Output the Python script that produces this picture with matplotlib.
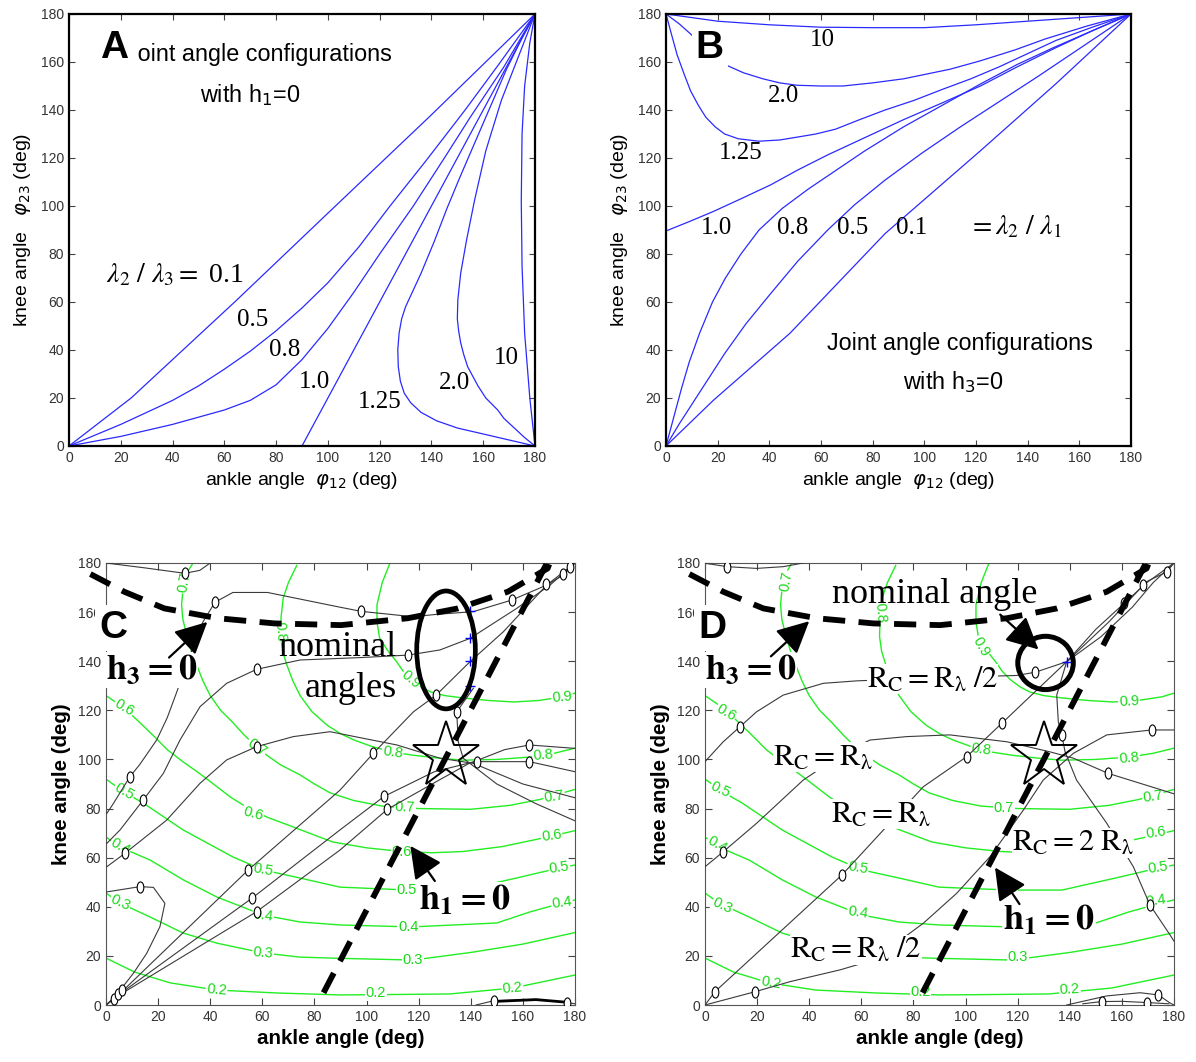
import matplotlib
matplotlib.use('Agg')
import matplotlib.pyplot as plt
from matplotlib.patches import Ellipse
from matplotlib.markers import MarkerStyle
from matplotlib.transforms import Affine2D

plt.rcParams['font.family'] = ['Liberation Sans', 'DejaVu Sans']
plt.rcParams['mathtext.fontset'] = 'stix'
SERIF = ['Liberation Serif', 'DejaVu Serif']

# ---------------- Panel A : h1 = 0, lambda2/lambda3 ----------------
A_labels = ['0.1', '0.5', '0.8', '1.0', '1.25', '2.0', '10']
A01_x = [0, 24, 64, 100, 140, 180]
A01_y = [0, 20, 60, 97, 138, 180]
A05_x = [0, 10, 20, 30, 40, 50, 60, 70, 80, 90, 100, 112, 124, 138, 153, 166, 180]
A05_y = [0, 4.5, 9, 14, 19, 25, 32, 39.5, 48, 57.5, 68, 83, 100, 119, 140, 159, 180]
A08_x = [0, 10, 20, 30, 40, 50, 60, 70, 80, 90, 100, 110, 120, 133, 145, 155, 168, 180]
A08_y = [0, 2, 4, 6.5, 9, 12, 15, 19, 25.5, 36, 49, 64, 80, 100, 120, 137, 158, 180]
A10_x = [90, 135, 180]
A10_y = [0, 90, 180]
A125_x = [180, 170, 160, 150, 142, 136, 132, 129.5, 128, 127.2, 127, 127.5, 128.5, 130, 133, 136,
          141, 146, 151, 157, 163, 169, 175, 180]
A125_y = [0, 2.5, 5, 7.5, 10.5, 14, 18, 22, 27, 33, 40, 47, 53, 58, 65, 72,
          85, 99, 112, 127, 142, 157, 170, 180]
A20_x = [180, 176, 172, 168, 165.6, 161, 158, 156, 154, 152.5, 151.3, 150.5, 150, 150.2, 151.3,
         153.6, 156.7, 161, 167, 174.6, 180]
A20_y = [0, 3.5, 7.5, 11.5, 15, 20, 25, 29, 33, 38, 43, 48, 53, 61, 72,
         86, 102.6, 123, 144, 165, 180]
A100_x = [180, 178, 176, 175, 174.7, 175, 176, 178, 180]
A100_y = [0, 20, 47, 75, 102, 130, 150, 168, 180]
A_label_x = [71.1, 83.4, 95, 120, 149, 169]
A_label_y = [52.5, 40, 26.7, 18.3, 26.2, 36.7]

# ---------------- Panel B : h3 = 0, lambda2/lambda1 ----------------
B_labels = ['10', '2.0', '1.25', '1.0', '0.8', '0.5', '0.1']
B10_x = [0, 20, 40, 60, 80, 100, 120, 140, 160, 180]
B10_y = [180, 177, 175.5, 174.5, 174.3, 174.3, 175.5, 177, 178.5, 180]
B20_x = [0, 5, 9.5, 16, 22.7, 30, 37.5, 44, 50.8, 60, 68.5, 80, 92, 110, 121.7, 135, 146.8, 163, 180]
B20_y = [180, 176, 171.7, 165, 159, 155.5, 153, 151.3, 150.3, 150, 150, 151.3, 153, 157, 160.5,
         165, 169.6, 175, 180]
B125_x = [0, 2, 4.3, 7, 9.5, 12.5, 15.4, 19, 22.7, 28, 36, 44, 50.8, 58, 65.6, 75, 84.8, 96, 107,
          118, 129, 140, 151, 165, 180]
B125_y = [180, 172, 163, 155, 148, 142, 137, 133, 130, 128, 127, 127.5, 128.7, 130, 132, 136, 140,
          144, 148.6, 153, 158, 163.5, 169, 174.5, 180]
B1_x = [0, 9, 18.3, 29, 40.5, 51, 62.6, 77, 92, 107, 121.7, 136, 151, 165, 180]
B1_y = [89.6, 93.5, 97.7, 103, 108.8, 115, 121.3, 128.5, 136, 143, 150, 158, 166, 173, 180]
B08_x = [0, 3, 6, 9, 13, 18, 23, 29, 36, 45, 55, 66, 77, 92, 107, 122, 136, 150, 165, 180]
B08_y = [0, 12, 24, 35, 47, 60, 70, 80, 90, 99, 107, 115, 123, 133, 142, 151, 159, 166, 173, 180]
B05_x = [0, 5, 11, 17, 22.7, 31, 40.5, 51, 62.6, 73, 84.8, 99, 114, 129, 144, 162, 180]
B05_y = [0, 9, 19, 29, 38.5, 51, 63.5, 77, 90, 100.5, 110.8, 122, 133, 143.5, 154, 167, 180]
B01_x = [0, 18.3, 48, 84.8, 121.7, 151, 180]
B01_y = [0, 19, 47, 88.5, 123, 151, 180]
B_label_x = [60.4, 45.3, 29, 19.4, 49, 72.4, 95.2]
B_label_y = [169, 145.8, 122, 91, 91, 91, 91]

# ---------------- Panels C/D : green contour levels ----------------
G02_x = [0, 11, 24.7, 42.4, 65.5, 89.8, 103.5, 132, 156, 180]
G02_y = [19.1, 13.4, 9, 6.1, 4.9, 4.1, 4.2, 4.5, 6.9, 12.2]
G03_x = [0, 5.4, 17, 29.6, 42.5, 60.3, 74.5, 89.8, 117.8, 140, 160, 180]
G03_y = [45.6, 41.5, 35.8, 29.3, 25.2, 21.2, 19.5, 19, 18.3, 21.4, 24.8, 29.5]
G04_x = [0, 5.4, 17, 29.6, 42.5, 55.3, 60.3, 74.5, 89.8, 117.3, 150, 162.7, 175, 180]
G04_y = [68.4, 64.3, 59, 51, 44, 38.7, 36.6, 33.8, 32.6, 31.8, 33.4, 37.9, 41.5, 42.8]
G05_x = [0, 6.9, 14.2, 29.6, 48.7, 60.3, 74.5, 89.8, 116.7, 137, 157.5, 174, 180]
G05_y = [92, 86.7, 82.3, 71.3, 60.3, 55, 51.7, 48, 46.8, 46.8, 51.7, 55.8, 57]
G06_x = [0, 6.9, 12, 17.9, 23.5, 29.6, 35, 40, 48, 56.4, 63, 69.4, 78, 87, 100, 113.5, 125, 137,
         152, 167.7, 180]
G06_y = [126, 121, 116, 110, 104, 99, 95, 91, 84.5, 79, 76, 73.5, 70, 66.4, 64, 62.5, 62, 62.5,
         64.5, 68, 71]
G07_x = [33.4, 30.5, 29.6, 29, 29.5, 31, 32.7, 34.8, 37.2, 40, 44, 48.7, 53, 57.8, 62, 67, 74.5,
         80, 86, 95, 106, 120, 140, 155, 166.5, 180]
G07_y = [180, 175, 170, 163, 157, 150.7, 144.5, 138.5, 132, 126, 120, 115, 110, 105, 101.5, 97.8,
         93.7, 90, 86.4, 83.3, 81, 80, 79.7, 81.3, 83.7, 87.8]
G08_x = [73.2, 70, 68, 67.2, 67, 67.8, 69.4, 71.7, 74.5, 79, 84.8, 90, 95, 102, 110, 118, 128, 137,
         150, 163, 172, 180]
G08_y = [179, 172, 165.7, 158, 150, 144, 138.5, 132, 126, 119.5, 114, 110.5, 108, 105.3, 103,
         101.7, 100.5, 99.7, 100, 101, 102.5, 104.6]
G09_x = [109, 106, 104, 104, 105, 108, 111.6, 114, 117.3, 121, 124.6, 130, 137.4, 147, 156.6, 166,
         175.4, 180]
G09_y = [180, 172, 163, 156, 149.5, 144.5, 139.7, 136, 132.4, 129.5, 127.5, 126, 125, 124, 123.4,
         124, 125.5, 127]

C_glab_x = [30, 67, 117, 175, 110, 167.7, 57.8, 114.8, 172, 6.9, 56.4, 113.5, 171,
            6.9, 60.3, 115.5, 174, 5.4, 60.3, 116, 175, 5.4, 60.3, 117.8, 42.4, 103.5, 156]
C_glab_y = [172, 152, 132.4, 125.5, 103, 101.7, 105, 80.4, 85, 121, 78, 62.3, 69,
            86.7, 55, 46.8, 55.8, 64.3, 36.6, 31.8, 41.5, 41.5, 21.2, 18.3, 6.1, 4.9, 6.9]
C_glab_t = ['0.7', '0.8', '0.9', '0.9', '0.8', '0.8', '0.7', '0.7', '0.7', '0.6', '0.6', '0.6', '0.6',
            '0.5', '0.5', '0.5', '0.5', '0.4', '0.4', '0.4', '0.4', '0.3', '0.3', '0.3', '0.2', '0.2', '0.2']
C_glab_r = [80, -85, -40, 5, -8, 5, -35, -2, 8, -30, -15, 0, 8,
            -30, -10, 0, 8, -30, -8, 0, 8, -25, -5, 0, -5, 0, 5]

D_glab_x = [31.3, 67.3, 106, 162.7, 106, 162.7, 114.7, 172, 8, 173, 6, 58.7, 116, 174,
            4.7, 58.7, 173, 6.7, 120, 25.3, 82.7, 140]
D_glab_y = [172.5, 159.7, 146, 123.7, 104, 100.7, 80.4, 85, 119, 70, 87.8, 56, 47.8, 56,
            65.5, 37.7, 42.4, 40.4, 19.4, 9.2, 5.2, 6.5]
D_glab_t = ['0.7', '0.8', '0.9', '0.9', '0.8', '0.8', '0.7', '0.7', '0.6', '0.6', '0.5', '0.5', '0.5', '0.5',
            '0.4', '0.4', '0.4', '0.3', '0.3', '0.2', '0.2', '0.2']
D_glab_r = [80, -85, -60, 3, -8, 5, 0, 8, -30, 8, -25, -10, 0, 8,
            -30, -8, 8, -25, 0, -10, 0, 3]

# ---------------- Panel C : black zero lines ----------------
C_top_x = [0, 15, 30.3, 36, 40]
C_top_y = [180, 178, 175.8, 177, 180]
C_beta_x = [0.3, 2.8, 9.2, 13, 19.5, 23.5, 27, 32.2, 37.2, 41.8, 48.7, 62, 89.8, 98, 118, 126, 141,
            155.7, 169.1, 175.5, 180]
C_beta_y = [78, 82, 93, 98, 108, 117, 127, 142.5, 156, 164, 168, 168, 162, 160.3, 158.1, 159, 160.2,
            164.9, 171, 175.1, 180]
C_alpha_x = [0.3, 5.4, 14.3, 22, 28.4, 36.1, 46.3, 57.8, 74.5, 98, 116, 128.2, 139.7, 157.6, 170.4, 180]
C_alpha_y = [65.8, 71.3, 83.5, 94.3, 107.9, 121.5, 131, 136.7, 140.5, 141.5, 142.5, 144.6, 149.3,
             161.5, 171, 180]
C_gamma_x = [0.3, 7.3, 10.5, 23.3, 36.1, 46.3, 57.8, 71.9, 86, 111.6, 128.2, 141, 160, 180]
C_gamma_y = [56.3, 61.8, 64.5, 75.3, 90.3, 99.8, 105.2, 109.3, 111.3, 105.9, 100.5, 98.4, 90, 84.4]
C_delta_x = [0, 13, 18.2, 22.6, 20.7, 15.6, 10.5, 6, 2, 0]
C_delta_y = [46, 48.2, 47.9, 41.4, 31.9, 21, 12.9, 6.8, 2, 0]
C_diaga_x = [0, 4.1, 54.6, 89.8, 102.6, 118, 126.7, 139.7, 152.5, 169.1, 180]
C_diaga_y = [0, 3.4, 55, 87.5, 102.5, 119.4, 126.2, 139.8, 152, 171, 180]
C_diagb_x = [0, 4, 55.9, 89.8, 106.8, 126, 141, 153, 162.5, 180]
C_diagb_y = [0, 3.5, 43.4, 71.3, 85, 95, 99, 104, 105.9, 104.5]
C_diagc_x = [0, 5, 57.8, 89.8, 108, 126, 139.7, 142.3, 162.5, 180]
C_diagc_y = [0, 4, 38, 63.1, 79.7, 90.5, 98.6, 99.1, 99.1, 95]
C_vert_x = [141, 134.6, 135.2, 137.1, 150, 165, 180]
C_vert_y = [129, 119.4, 107.2, 100.5, 90, 82, 75]
C_br_x = [142, 149, 160, 169, 177, 180]
C_br_y = [0, 1.8, 2, 1.8, 1, 0.5]
C_mark_x = [30.3, 41.8, 98, 155.8, 9.2, 14.3, 57.8, 116, 7.3, 57.8, 13, 54.6, 55.9, 57.8,
            102.6, 126.7, 106.8, 108, 134.6, 162.5, 162.5, 142.3, 149, 177, 3, 4.5, 6, 169, 175.5, 178]
C_mark_y = [175.8, 164, 160.3, 165, 93, 83.5, 136.7, 142.5, 61.8, 105.2, 48.2, 55, 43.4, 38,
            102.5, 126.2, 85, 79.7, 119.4, 105.9, 99.1, 99.1, 1.8, 1, 2.5, 4.5, 6, 171.5, 175.5, 178.5]
C_plus_x = [139.7, 139.7, 139.7, 139.7]
C_plus_y = [160.3, 149.5, 140, 129.8]

# ---------------- Panel D : black zero lines ----------------
D_top_x = [0, 8.6, 19.8, 30, 37.7]
D_top_y = [179.9, 178.5, 177.8, 178.5, 180]
D_upper_x = [0, 7, 13.4, 19.8, 30, 45.4, 58.2, 90.2, 119.6, 126.7, 138.8]
D_upper_y = [99.1, 107.2, 113.3, 119.4, 126.2, 131, 132, 133.3, 134.2, 135.5, 139.8]
D_mid_x = [0, 7, 19.8, 37.7, 53.3, 63.3, 77.4, 94, 115.8, 132.4, 141.4, 154.8, 180]
D_mid_y = [56.3, 62.4, 74, 91.6, 102.7, 107.9, 109.3, 110, 107.2, 103.1, 100.5, 94.3, 86]
D_diag_x = [0, 3.8, 52.5, 83.8, 100.4, 113.9, 138.8, 155, 169.5, 177.2, 180]
D_diag_y = [0, 5.4, 52.9, 88.9, 101.1, 114.7, 139.8, 156, 172.4, 176.4, 180]
D_low_x = [0, 19.2, 32.6, 51.8, 64.6, 83.8, 96.6, 109.4, 122.2, 129.8, 141.4, 154.2, 171.4, 180]
D_low_y = [0, 5.4, 9.5, 14.3, 18.3, 33.3, 45.5, 60.4, 79.4, 91.6, 102.5, 110, 112, 112]
D_vert_x = [138.8, 135, 135.6, 136.9, 138.2, 142.6, 154.2, 164.4, 170.8, 178.5, 180]
D_vert_y = [139.8, 126.2, 115.4, 110, 103.1, 91.6, 74, 56.3, 40.7, 28.5, 26]
D_b1_x = [138.8, 150, 161, 169.3, 180]
D_b1_y = [139.8, 153, 163.7, 171.8, 180]
D_b2_x = [138.8, 152, 164, 172, 180]
D_b2_y = [139.8, 150, 162, 172, 180]
D_br_x = [138.8, 154.2, 167, 174, 178.5, 180]
D_br_y = [0, 3.7, 5, 4.1, 0.8, 0]
D_br2_x = [145, 152.3, 160, 169.5, 178]
D_br2_y = [0.5, 1.4, 1.5, 1, 0.5]
D_mark_x = [8.6, 13.4, 126.7, 7, 154.8, 3.8, 52.5, 100.4, 113.9, 177.2, 168.2, 161, 19.2, 171.4, 136.9,
            170.8, 152.3, 169.5, 174]
D_mark_y = [178.5, 113.3, 135.5, 62.4, 94.3, 5.4, 52.9, 101.1, 114.7, 176.4, 171, 163.7, 5.4, 112, 110,
            40.7, 1.4, 1, 4.1]
D_plus_x = [138.8]
D_plus_y = [139.8]

# ---------------- dashed h=0 lines (C and D) ----------------
H3_x = [-6, 7, 22.4, 42.9, 64.6, 90.2, 115.8, 135, 154.2, 169.5, 170.1]
H3_y = [175.5, 168.3, 161.5, 157.5, 155.4, 154.7, 157.5, 161.5, 168.3, 177.8, 179.5]
H1_x = [83.5, 169]
H1_y = [5, 179.5]

BLUE = '#2a2aff'
GREEN = '#22ee22'
GTXT = '#18d818'
BLK = '#3a3a3a'
TICKC = '#333333'

fig = plt.figure(figsize=(11.96, 10.62), dpi=100)
axA = fig.add_axes([0.05769, 0.58004, 0.38963, 0.40678])
axB = fig.add_axes([0.55686, 0.58004, 0.38880, 0.40678])
axC = fig.add_axes([0.08863, 0.05367, 0.39214, 0.41620])
axD = fig.add_axes([0.58946, 0.05367, 0.39214, 0.41620])


def frame(ax, lw, col, tlen):
    ax.set_xlim(0, 180)
    ax.set_ylim(0, 180)
    ax.set_xticks(range(0, 181, 20))
    ax.set_yticks(range(0, 181, 20))
    ax.tick_params(direction='in', top=True, right=True, length=tlen, width=0.8,
                   labelsize=10, labelcolor=TICKC, color='#444444')
    for s in ax.spines.values():
        s.set_linewidth(lw)
        s.set_color(col)


# ---- Panel A ----
frame(axA, 1.6, 'black', 4)
for xs, ys in [(A01_x, A01_y), (A05_x, A05_y), (A08_x, A08_y), (A10_x, A10_y),
               (A125_x, A125_y), (A20_x, A20_y), (A100_x, A100_y)]:
    axA.plot(xs, ys, color=BLUE, lw=0.9)
for t, x, y in zip(A_labels[1:], A_label_x, A_label_y):
    axA.text(x, y, t, family=SERIF, fontsize=18, ha='center', va='center')
axA.text(40.9, 71.2, r'$\lambda_2\ /\ \lambda_3 =$ 0.1', family=SERIF, fontsize=20,
         ha='center', va='center', math_fontfamily='stix')
axA.text(22.0, 163.3, 'Joint angle configurations', fontsize=16.8, ha='left', va='center')
axA.text(12, 166, 'A', fontsize=28, fontweight='bold', ha='left', va='center',
         bbox=dict(boxstyle='square,pad=0.22', fc='white', ec='none'), zorder=5)
axA.text(70, 146.3, r'with h$_1$=0', fontsize=16.8, ha='center', va='center',
         math_fontfamily='dejavusans')
axA.set_xlabel(r'ankle angle  $\varphi_{12}$ (deg)', fontsize=14, labelpad=4,
               math_fontfamily='dejavusans')
axA.set_ylabel(r'knee angle   $\varphi_{23}$ (deg)', fontsize=14, labelpad=6,
               math_fontfamily='dejavusans')

# ---- Panel B ----
frame(axB, 1.6, 'black', 4)
for xs, ys in [(B10_x, B10_y), (B20_x, B20_y), (B125_x, B125_y), (B1_x, B1_y),
               (B08_x, B08_y), (B05_x, B05_y), (B01_x, B01_y)]:
    axB.plot(xs, ys, color=BLUE, lw=0.9)
for t, x, y in zip(B_labels, B_label_x, B_label_y):
    axB.text(x, y, t, family=SERIF, fontsize=18, ha='center', va='center')
axB.text(135, 91, r'$= \lambda_2\ /\ \lambda_1$', fontsize=20, ha='center', va='center',
         math_fontfamily='stix')
axB.text(17, 165.8, 'B', fontsize=28, fontweight='bold', ha='center', va='center',
         bbox=dict(boxstyle='square,pad=0.1', fc='white', ec='none'), zorder=5)
axB.text(113.8, 42.5, 'Joint angle configurations', fontsize=16.8, ha='center', va='center')
axB.text(111, 26.7, r'with h$_3$=0', fontsize=16.8, ha='center', va='center',
         math_fontfamily='dejavusans')
axB.set_xlabel(r'ankle angle  $\varphi_{12}$ (deg)', fontsize=14, labelpad=4,
               math_fontfamily='dejavusans')
axB.set_ylabel(r'knee angle   $\varphi_{23}$ (deg)', fontsize=14, labelpad=6,
               math_fontfamily='dejavusans')

ell = MarkerStyle('o', transform=Affine2D().scale(0.6, 1.0))
greens = [(G02_x, G02_y), (G03_x, G03_y), (G04_x, G04_y), (G05_x, G05_y),
          (G06_x, G06_y), (G07_x, G07_y), (G08_x, G08_y), (G09_x, G09_y)]
DASH = (0, (3.8, 2.3))


def lower_panel(ax, letter, ly_letter, lines, mx, my, px, py, lx, ly, lt, lr):
    frame(ax, 0.8, '#555555', 5)
    for xs, ys in greens:
        ax.plot(xs, ys, color=GREEN, lw=1.0, zorder=2)
    for x, y, t, r in zip(lx, ly, lt, lr):
        ax.text(x, y, t, color=GTXT, fontsize=10.5, rotation=r, ha='center', va='center',
                rotation_mode='anchor', zorder=2.5,
                bbox=dict(boxstyle='square,pad=0.05', fc='white', ec='none'))
    for xs, ys in lines:
        ax.plot(xs, ys, color=BLK, lw=0.8, zorder=3)
    ax.plot(mx, my, ls='none', marker=ell, ms=8, mfc='white', mec='black', mew=0.8, zorder=3.5)
    ax.plot(px, py, ls='none', marker='+', ms=7, mec='blue', mew=1.0, zorder=3.6)
    ax.plot(H3_x, H3_y, color='black', lw=4.2, ls=DASH, zorder=6, clip_on=False)
    ax.plot(H1_x, H1_y, color='black', lw=4.2, ls=DASH, zorder=6, clip_on=False)
    ax.plot([130.3], [101.2], marker='*', ms=50, mfc='none', mec='black', mew=1.4, zorder=7)
    ax.text(-2.5, ly_letter, letter, fontsize=28, fontweight='bold', ha='left', va='center',
            bbox=dict(boxstyle='square,pad=0.12', fc='white', ec='none'), zorder=8,
            clip_on=False)
    ax.set_xlabel('ankle angle (deg)', fontsize=14.8, fontweight='bold', labelpad=4)
    ax.set_ylabel('knee angle (deg)', fontsize=14.8, fontweight='bold', labelpad=5)


arrow = dict(arrowstyle='-|>,head_length=0.9,head_width=0.45', lw=1.6, color='black',
             mutation_scale=22, shrinkA=0, shrinkB=0)

# ---- Panel C ----
C_lines = [(C_top_x, C_top_y), (C_beta_x, C_beta_y), (C_alpha_x, C_alpha_y),
           (C_gamma_x, C_gamma_y), (C_delta_x, C_delta_y), (C_diaga_x, C_diaga_y),
           (C_diagb_x, C_diagb_y), (C_diagc_x, C_diagc_y), (C_vert_x, C_vert_y),
           (C_br_x, C_br_y)]
lower_panel(axC, 'C', 153.5, C_lines, C_mark_x, C_mark_y, C_plus_x, C_plus_y,
            C_glab_x, C_glab_y, C_glab_t, C_glab_r)
axC.plot([150, 165, 176], [1.5, 2.2, 1.2], color='black', lw=2.0, zorder=3)
axC.add_patch(Ellipse((130.5, 144.6), 22.5, 48, fill=False, ec='black', lw=3.4, zorder=7))
axC.text(88.6, 145.5, 'nominal', family=SERIF, fontsize=26, ha='center', va='center', zorder=8)
axC.text(94, 129, 'angles', family=SERIF, fontsize=26, ha='center', va='center', zorder=8)
axC.text(17.5, 136.5, r'$\mathbf{h_3 = 0}$', fontsize=26, ha='center', va='center',
         math_fontfamily='stix', zorder=8,
         bbox=dict(boxstyle='square,pad=0.02', fc='white', ec='none'))
axC.text(137.7, 42.8, r'$\mathbf{h_1 = 0}$', fontsize=26, ha='center', va='center',
         math_fontfamily='stix', zorder=8,
         bbox=dict(boxstyle='square,pad=0.02', fc='white', ec='none'))
axC.annotate('', xy=(38.9, 156), xytext=(24.2, 141.5), arrowprops=arrow, zorder=9)
axC.annotate('', xy=(116.8, 64.8), xytext=(126.2, 50.5), arrowprops=arrow, zorder=9)

# ---- Panel D ----
D_lines = [(D_top_x, D_top_y), (D_upper_x, D_upper_y), (D_mid_x, D_mid_y),
           (D_diag_x, D_diag_y), (D_low_x, D_low_y), (D_vert_x, D_vert_y),
           (D_b1_x, D_b1_y), (D_b2_x, D_b2_y), (D_br_x, D_br_y), (D_br2_x, D_br2_y)]
lower_panel(axD, 'D', 153.5, D_lines, D_mark_x, D_mark_y, D_plus_x, D_plus_y,
            D_glab_x, D_glab_y, D_glab_t, D_glab_r)
axD.add_patch(Ellipse((130.7, 139.3), 21.3, 21.7, fill=False, ec='black', lw=3.6, zorder=7))
axD.text(88, 167, 'nominal angle', family=SERIF, fontsize=26, ha='center', va='center', zorder=8)
axD.text(17.5, 136.5, r'$\mathbf{h_3 = 0}$', fontsize=26, ha='center', va='center',
         math_fontfamily='stix', zorder=8,
         bbox=dict(boxstyle='square,pad=0.02', fc='white', ec='none'))
axD.text(132, 34.5, r'$\mathbf{h_1 = 0}$', fontsize=26, ha='center', va='center',
         math_fontfamily='stix', zorder=8,
         bbox=dict(boxstyle='square,pad=0.02', fc='white', ec='none'))
rc_txt = [(87.3, 132.6, r'$\mathrm{R_C = R_\lambda\ /2}$'),
          (45.3, 100.8, r'$\mathrm{R_C = R_\lambda}$'),
          (67.3, 77.6, r'$\mathrm{R_C = R_\lambda}$'),
          (141.3, 66, r'$\mathrm{R_C = 2\ R_\lambda}$'),
          (58, 22.6, r'$\mathrm{R_C = R_\lambda\ /2}$')]
for x, y, t in rc_txt:
    axD.text(x, y, t, fontsize=22, ha='center', va='center', math_fontfamily='stix', zorder=8,
             bbox=dict(boxstyle='square,pad=0.0', fc='white', ec='none'))
axD.annotate('', xy=(40, 156.3), xytext=(25.3, 142), arrowprops=arrow, zorder=9)
axD.annotate('', xy=(111.3, 56), xytext=(120.7, 41.1), arrowprops=arrow, zorder=9)
axD.annotate('', xy=(128, 144.8), xytext=(113.3, 159), arrowprops=arrow, zorder=9)

fig.savefig('out.png', dpi=100)
